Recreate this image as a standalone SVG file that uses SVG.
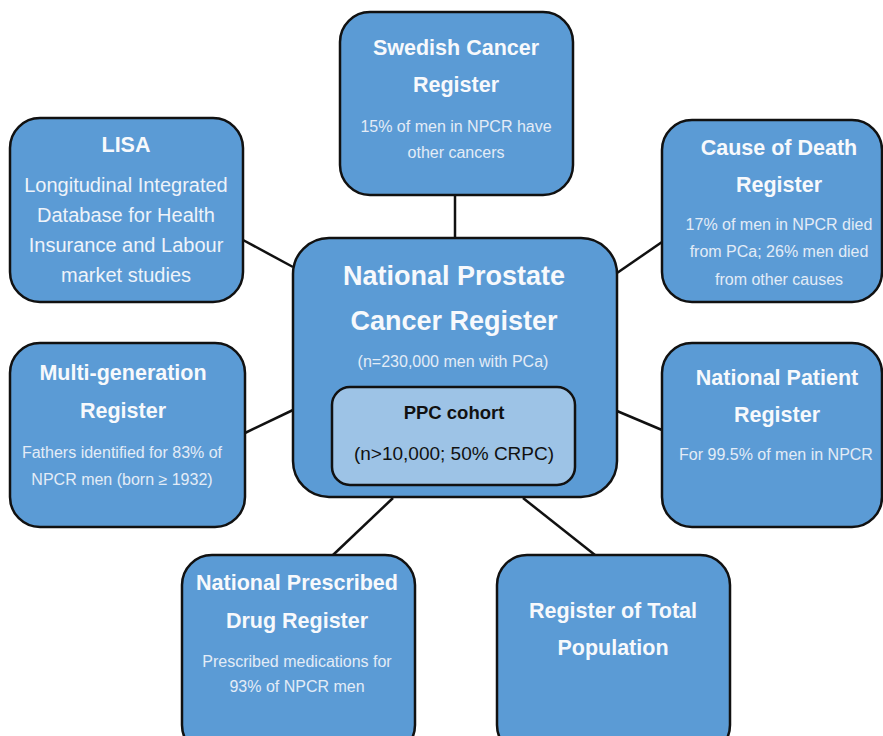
<svg xmlns="http://www.w3.org/2000/svg" width="883" height="736" viewBox="0 0 883 736">
<style>
.box{fill:#5b9bd5;stroke:#111;stroke-width:2.5}
.inner{fill:#9dc3e6;stroke:#111;stroke-width:2.5}
.t{font-family:"Liberation Sans",Arial,sans-serif;font-weight:bold;font-size:21.5px;fill:#f7f9fc;text-anchor:middle}
.s{font-family:"Liberation Sans",Arial,sans-serif;font-size:16px;fill:#e3ecf7;text-anchor:middle}
.b{font-family:"Liberation Sans",Arial,sans-serif;font-size:20px;fill:#eef3fa;text-anchor:middle}
.conn line{stroke:#111;stroke-width:2.5}
</style>
<rect width="883" height="736" fill="#ffffff"/>
<g class="conn" id="connectors">
<line x1="455" y1="195" x2="455" y2="238"/>
<line x1="243" y1="240" x2="293" y2="267"/>
<line x1="617" y1="273" x2="662" y2="242"/>
<line x1="245" y1="433" x2="293" y2="410"/>
<line x1="617" y1="411" x2="662" y2="430"/>
<line x1="333" y1="555" x2="393" y2="498"/>
<line x1="523" y1="498" x2="595" y2="555"/>
</g>
<g id="swedish">
<rect class="box" x="340" y="12" width="233" height="183" rx="30"/>
<text class="t" x="456" y="55">Swedish Cancer</text>
<text class="t" x="456" y="92">Register</text>
<text class="s" x="456" y="132">15% of men in NPCR have</text>
<text class="s" x="456" y="158">other cancers</text>
</g>
<g id="lisa">
<rect class="box" x="10" y="118" width="233" height="184" rx="30"/>
<text class="t" x="126" y="152">LISA</text>
<text class="b" x="126" y="192">Longitudinal Integrated</text>
<text class="b" x="126" y="222">Database for Health</text>
<text class="b" x="126" y="252">Insurance and Labour</text>
<text class="b" x="126" y="282">market studies</text>
</g>
<g id="causeofdeath">
<rect class="box" x="662" y="120" width="220" height="182" rx="30"/>
<text class="t" x="779" y="155">Cause of Death</text>
<text class="t" x="779" y="192">Register</text>
<text class="s" x="779" y="230">17% of men in NPCR died</text>
<text class="s" x="779" y="257">from PCa; 26% men died</text>
<text class="s" x="779" y="285">from other causes</text>
</g>
<g id="npcr">
<rect class="box" x="293" y="238" width="324" height="259" rx="36"/>
<text class="t" x="454" y="285" style="font-size:27px">National Prostate</text>
<text class="t" x="454" y="330" style="font-size:27px">Cancer Register</text>
<text class="s" x="453" y="367">(n=230,000 men with PCa)</text>
<g id="ppc">
<rect class="inner" x="332" y="387" width="243" height="98" rx="18"/>
<text class="t" x="454" y="419" style="font-size:18.5px;fill:#111">PPC cohort</text>
<text class="b" x="454" y="460" style="font-size:19px;fill:#111">(n&gt;10,000; 50% CRPC)</text>
</g>
</g>
<g id="multigen">
<rect class="box" x="10" y="343" width="235" height="184" rx="30"/>
<text class="t" x="123" y="380">Multi-generation</text>
<text class="t" x="123" y="418">Register</text>
<text class="s" x="122" y="458">Fathers identified for 83% of</text>
<text class="s" x="122" y="485">NPCR men (born ≥ 1932)</text>
</g>
<g id="patient">
<rect class="box" x="662" y="343" width="220" height="184" rx="30"/>
<text class="t" x="777" y="385">National Patient</text>
<text class="t" x="777" y="422">Register</text>
<text class="s" x="776" y="460">For 99.5% of men in NPCR</text>
</g>
<g id="drug">
<rect class="box" x="182" y="555" width="233" height="200" rx="30"/>
<text class="t" x="297" y="590">National Prescribed</text>
<text class="t" x="297" y="628">Drug Register</text>
<text class="s" x="297" y="667">Prescribed medications for</text>
<text class="s" x="297" y="692">93% of NPCR men</text>
</g>
<g id="population">
<rect class="box" x="497" y="555" width="233" height="200" rx="30"/>
<text class="t" x="613" y="618">Register of Total</text>
<text class="t" x="613" y="655">Population</text>
</g>
</svg>
